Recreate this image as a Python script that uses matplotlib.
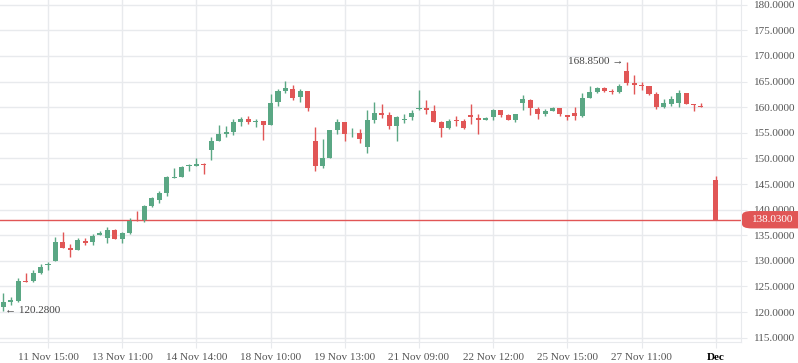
from matplotlib import pyplot as plt
from matplotlib.patches import FancyBboxPatch
import numpy as np

# OHLC values, one candle per entry
opens = [120.9, 122.0, 122.2, 126.1, 126.0, 127.7, 129.1, 130.0, 133.65, 132.5,
         132.2, 133.9, 133.6, 134.95, 134.55, 136.05, 134.2, 135.5, 137.9, 138.0,
         140.75, 141.9, 143.3, 146.25, 146.45, 148.55, 148.6, 148.95, 151.65, 153.45,
         154.8, 155.25, 157.2, 157.7, 157.1, 157.3, 156.6, 161.0, 163.15, 163.55,
         162.05, 163.15, 153.4, 148.6, 150.15, 155.55, 157.1, 154.9, 154.9, 152.3,
         157.5, 158.95, 158.5, 156.4, 157.5, 158.0, 159.65, 159.85, 159.25, 157.1,
         156.0, 157.55, 157.3, 158.5, 157.85, 157.5, 158.0, 159.45, 158.5, 157.5,
         160.9, 161.4, 159.6, 158.6, 159.3, 159.9, 158.5, 158.95, 158.35, 161.85,
         163.0, 163.7, 163.2, 163.0, 167.05, 164.8, 164.3, 164.15, 162.65, 160.1,
         160.6, 160.9, 162.85, 160.6, 160.2, 160.4, 145.8]
highs = [123.8, 122.9, 126.6, 127.7, 128.25, 129.4, 129.7, 134.75, 135.6, 133.3,
         134.4, 134.4, 135.2, 135.85, 136.7, 136.25, 135.7, 138.35, 139.75, 140.95,
         142.5, 143.55, 146.65, 148.1, 148.55, 148.95, 150.05, 149.1, 154.25, 156.55,
         156.35, 157.65, 158.05, 158.3, 157.75, 157.35, 162.6, 163.55, 165.1, 164.35,
         163.55, 163.15, 156.15, 153.8, 155.55, 157.65, 157.1, 156.0, 155.7, 159.45,
         161.0, 160.6, 159.0, 158.3, 158.6, 159.45, 163.35, 161.4, 160.45, 157.3,
         157.65, 158.3, 157.65, 160.6, 158.7, 158.15, 159.65, 159.45, 158.65, 158.7,
         162.4, 161.6, 160.1, 159.7, 160.1, 159.9, 158.5, 160.1, 162.7, 164.15,
         164.0, 163.9, 163.5, 164.5, 168.85, 166.3, 164.9, 164.15, 163.0, 161.6,
         162.2, 163.35, 162.85, 160.6, 160.75, 160.4, 146.65]
lows = [120.28, 121.3, 121.9, 125.8, 125.9, 127.5, 128.25, 130.0, 132.5, 130.85,
        132.2, 133.1, 133.0, 134.95, 133.4, 134.2, 133.5, 135.25, 137.7, 137.5,
        140.6, 141.2, 142.75, 146.25, 146.45, 147.55, 148.5, 147.0, 149.7, 153.45,
        154.25, 154.65, 156.4, 156.75, 156.2, 153.6, 156.6, 160.25, 162.85, 161.4,
        161.0, 159.25, 147.6, 148.2, 150.15, 154.8, 153.4, 154.25, 153.0, 151.15,
        156.85, 157.95, 155.75, 153.4, 157.0, 157.5, 159.45, 158.6, 157.2, 154.25,
        155.7, 156.4, 155.7, 156.65, 154.7, 157.4, 157.4, 158.15, 157.4, 157.2,
        159.45, 158.5, 157.75, 158.35, 159.25, 158.35, 157.5, 157.5, 158.15, 161.85,
        162.7, 163.0, 162.5, 162.85, 164.3, 162.65, 163.35, 162.4, 159.7, 159.9,
        160.3, 160.1, 160.6, 159.25, 160.0, 160.4, 137.95]
closes = [121.9, 122.3, 126.1, 125.85, 127.7, 128.8, 129.3, 133.65, 132.6, 132.2,
          134.05, 133.45, 134.9, 135.5, 136.05, 134.2, 135.5, 137.8, 137.75, 140.75,
          142.25, 143.3, 146.4, 146.45, 148.3, 148.75, 148.95, 148.75, 153.45, 154.8,
          155.2, 157.1, 157.7, 157.05, 157.3, 156.6, 160.9, 163.15, 163.8, 161.85,
          163.15, 159.9, 148.6, 150.15, 155.55, 157.1, 154.8, 155.05, 153.8, 157.5,
          158.95, 158.55, 156.4, 158.0, 157.7, 158.95, 159.85, 159.45, 157.2, 156.0,
          157.3, 157.35, 156.0, 158.05, 157.4, 157.9, 159.45, 158.5, 157.4, 158.6,
          161.6, 159.9, 158.6, 159.25, 159.9, 158.6, 158.15, 158.35, 161.75, 163.0,
          163.7, 163.2, 163.0, 164.15, 164.8, 164.3, 164.15, 162.5, 160.1, 160.9,
          161.6, 162.85, 160.6, 160.35, 160.05, 160.4, 138.03]

tick_pos = [6, 16, 26, 36, 46, 56, 66, 76, 86, 96]
tick_labels = ["11 Nov 15:00", "13 Nov 11:00", "14 Nov 14:00", "18 Nov 10:00",
               "19 Nov 13:00", "21 Nov 09:00", "22 Nov 12:00", "25 Nov 15:00",
               "27 Nov 11:00", "Dec"]
y_ticks = np.arange(115, 181, 5)
last_price = 138.03
max_idx, min_idx = 84, 0

UP, DOWN, FLAT = "#5aa784", "#e15656", "#8a8a8a"
GRID = "#e8eaed"
FONT = ["Liberation Serif", "DejaVu Serif"]

plt.rcParams["font.family"] = FONT

fig = plt.figure(figsize=(7.98, 3.63), dpi=100)
ax = fig.add_axes([0, 1 - 342 / 363, 741 / 798, 342 / 363])

x = np.arange(len(opens))
o, h, l, c = map(np.array, (opens, highs, lows, closes))
colors = [UP if cc > oo else (DOWN if cc < oo else FLAT) for oo, cc in zip(o, c)]

# wicks then bodies
ax.vlines(x, l, h, colors=colors, lw=1, zorder=3)
body_bottom = np.minimum(o, c)
body_height = np.maximum(np.abs(c - o), 0.12)
ax.bar(x, body_height, bottom=body_bottom, width=0.68, color=colors, zorder=4, linewidth=0)

# last price line
ax.axhline(last_price, color=DOWN, lw=1, zorder=2)

# max / min markers
ax.text(max_idx - 0.45, highs[max_idx], "168.8500 \u2192", ha="right", va="center",
        fontsize=8, color="#444444", family=["Liberation Serif", "DejaVu Sans"])
ax.text(min_idx + 0.2, lows[min_idx], "\u2190 120.2800", ha="left", va="center",
        fontsize=8, color="#444444", family=["Liberation Serif", "DejaVu Sans"])

ax.set_xlim(-0.47, 99.4)
ax.set_ylim(114.16, 180.92)

ax.set_xticks(tick_pos)
ax.set_xticklabels(tick_labels)
ax.set_yticks(y_ticks)
ax.set_yticklabels([f"{v:.4f}" for v in y_ticks])
ax.yaxis.tick_right()

ax.tick_params(axis="x", length=4, color=GRID, labelsize=8, labelcolor="#555555", pad=4)
ax.tick_params(axis="y", length=4, color=GRID, labelsize=8, labelcolor="#555555", pad=5)
for lbl in ax.get_xticklabels():
    if lbl.get_text() == "Dec":
        lbl.set_color("black")
        lbl.set_fontweight("bold")

ax.grid(color=GRID, lw=1)
ax.set_axisbelow(True)
for side in ["top", "left"]:
    ax.spines[side].set_visible(False)
for side in ["right", "bottom"]:
    ax.spines[side].set_color(GRID)

# price tag on the right axis
y_tag = ax.transData.transform((0, last_price))[1] / fig.bbox.height
tag = FancyBboxPatch((742 / 798, y_tag - 8.7 / 363), 70 / 798, 17.4 / 363,
                     boxstyle="round,pad=0,rounding_size=0.012",
                     transform=fig.transFigure, fc=DOWN, ec="none", zorder=5)
fig.patches.append(tag)
fig.text(752 / 798, y_tag, "138.0300", color="white", fontsize=8, va="center",
         ha="left", zorder=6)

fig.savefig("out.png", dpi=100)
